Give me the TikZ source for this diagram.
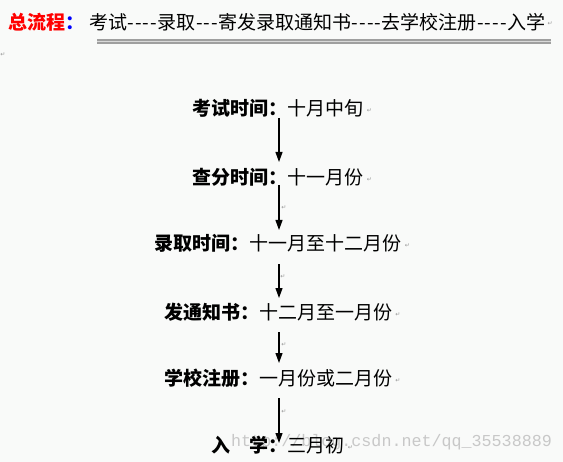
\documentclass[tikz,border=0pt]{standalone}
\usepackage{fontspec}
\usetikzlibrary{arrows.meta,calc}
\newfontfamily\cjk{Noto Sans CJK SC}
\newfontfamily\symf{DejaVu Sans}
\newfontfamily\wmf{Liberation Mono}
\definecolor{bgc}{RGB}{249,250,249}
\definecolor{wmc}{RGB}{200,200,200}
\definecolor{pmc}{RGB}{150,150,150}
\newcommand\hy{\makebox[7.6bp][c]{-}}
\begin{document}
\begin{tikzpicture}[x=1bp,y=-1bp,
  txt/.style={font=\cjk\fontsize{19bp}{23bp}\selectfont, inner sep=0pt},
  arr/.style={line width=1.1bp, -{Triangle[width=7bp,length=10bp]}},
  pm/.style={font=\symf\fontsize{6bp}{7bp}\selectfont, text=pmc, inner sep=0pt}]
\fill[bgc] (0,0) rectangle (563,462);
\useasboundingbox (0,0) rectangle (563,462);
% title
\node[txt, anchor=west, text=red] (tt) at (8,22) {\bfseries 总流程\textcolor{blue}{：}};
\node[txt, anchor=west] (tb) at (89,22) {考试\hy\hy\hy\hy 录取\hy\hy\hy 寄发录取通知书\hy\hy\hy\hy 去学校注册\hy\hy\hy\hy 入学};
\node[pm, anchor=west] (pt) at ($(tb.east)+(2,2)$) {↵};
\coordinate (l1) at (97,42);
\coordinate (l2) at (551,42);
\draw[line width=5bp, gray!75] (l1) -- (l2);
\draw[line width=1bp, gray!30] (l1) -- (l2);
\node[pm] (p0) at (3,55) {↵};
% watermark
\node[font=\wmf\fontsize{16.7bp}{18bp}\selectfont, text=wmc, anchor=west, inner sep=0pt] (wm) at (231,442) {http://blog.csdn.net/qq\_35538889};
% rows
\node[txt] (r1) at (278,108) {\bfseries 考试时间：\mdseries 十月中旬};
\node[txt] (r2) at (278,177) {\bfseries 查分时间：\mdseries 十一月份};
\node[txt] (r3) at (278,243) {\bfseries 录取时间：\mdseries 十一月至十二月份};
\node[txt] (r4) at (278,312) {\bfseries 发通知书：\mdseries 十二月至一月份};
\node[txt] (r5) at (278,378) {\bfseries 学校注册：\mdseries 一月份或二月份};
\node[txt] (r6) at (278,445) {\bfseries 入　学：\mdseries 三月初};
\foreach \r in {r1,r2,r3,r4,r5,r6}
  \node[pm, anchor=west] at ($(\r.east)+(3,3)$) {↵};
% arrows
\coordinate (a1s) at (279,118); \coordinate (a1e) at (279,162);
\coordinate (a2s) at (279,185); \coordinate (a2e) at (279,230);
\coordinate (a3s) at (279,264); \coordinate (a3e) at (279,298);
\coordinate (a4s) at (279,332); \coordinate (a4e) at (279,363);
\coordinate (a5s) at (279,398); \coordinate (a5e) at (279,443);
\draw[arr] (a1s) -- (a1e);
\draw[arr] (a2s) -- (a2e);
\draw[arr] (a3s) -- (a3e);
\draw[arr] (a4s) -- (a4e);
\draw[arr] (a5s) -- (a5e);
\node[pm] at (284,208) {↵};
\node[pm] at (283,277) {↵};
\node[pm] at (284,345) {↵};
\node[pm] at (284,412) {↵};
\end{tikzpicture}
\end{document}
